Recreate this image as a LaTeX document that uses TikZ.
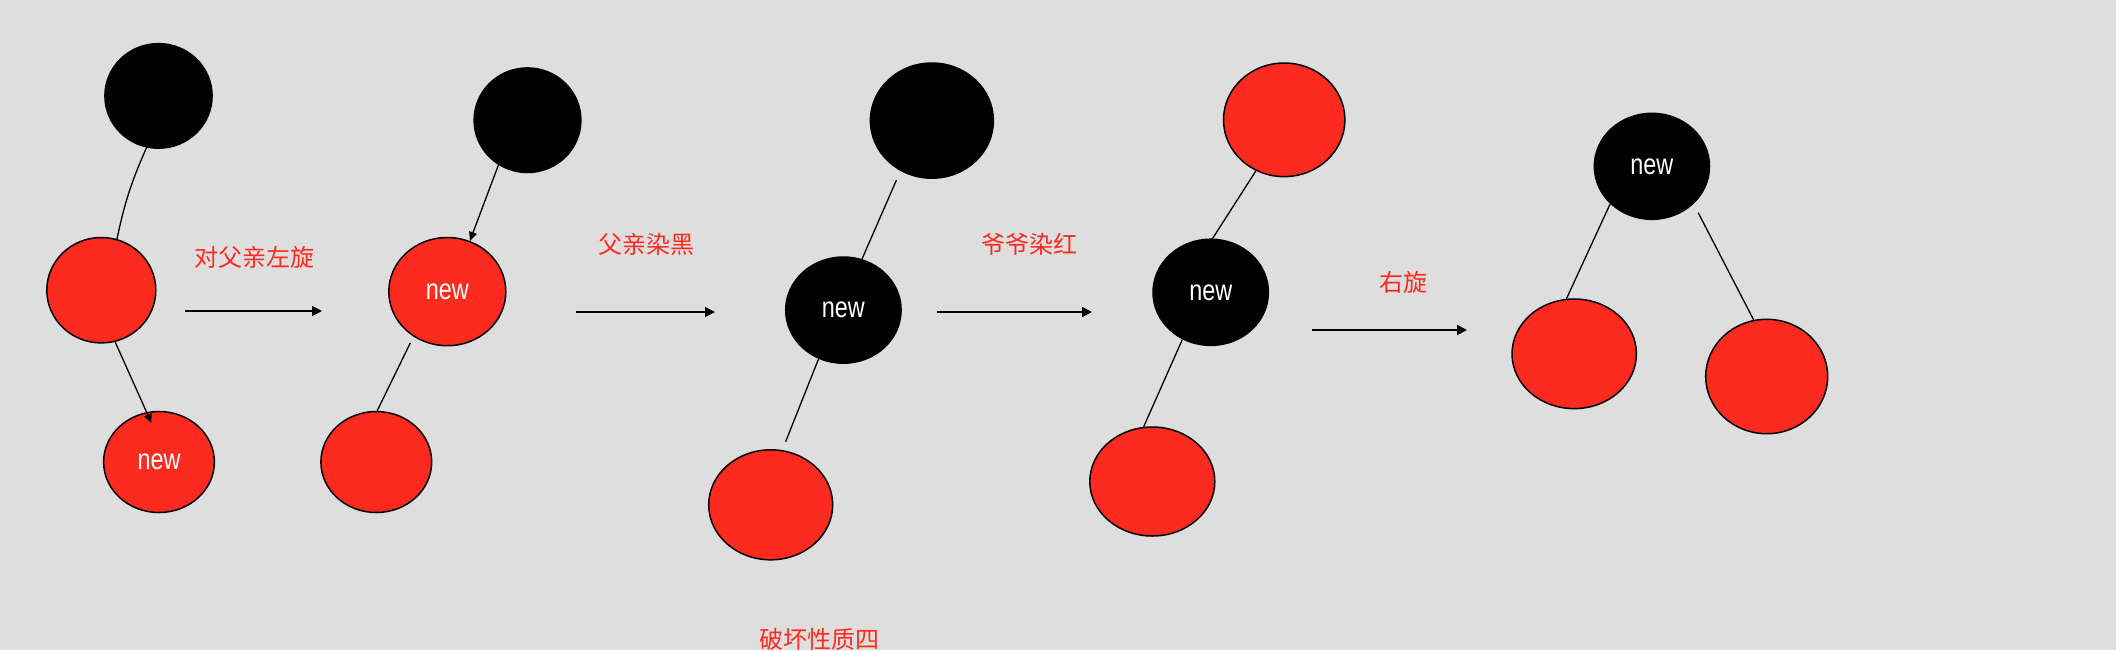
\documentclass[tikz,border=0pt]{standalone}
\usepackage{fontspec}
\setsansfont{Liberation Sans}
\newfontfamily\cjk{Noto Sans CJK SC}
\usepackage{tikz}
\usetikzlibrary{arrows.meta,shapes.geometric}
\definecolor{rbred}{RGB}{252,42,31}
\definecolor{bggray}{RGB}{222,222,222}
\newcommand{\newtag}{\scalebox{0.9}[1.12]{new}}

\begin{document}
\begin{tikzpicture}[x=0.5pt, y=-0.5pt,
  rbnode/.style={ellipse, draw=black, line width=0.75pt, inner sep=0pt, text=white, font=\sffamily\fontsize{13}{15}\selectfont},
  edge/.style={line width=0.65pt},
  tip/.style={-{Triangle[length=4.5pt,width=4pt]}},
  movearrow/.style={line width=0.9pt, -{Triangle[length=5pt,width=5pt]}},
  caption/.style={text=rbred, font=\cjk\fontsize{12}{14}\selectfont}]
\path[fill=bggray, use as bounding box] (0,0) rectangle (2116,650);
\foreach \nm/\x/\y/\w/\h/\c/\txt in {gp1/158.5/95.9/53.6/52.3/black/{}, pa1/101.3/290.2/54.5/52.7/rbred/{}, nw1/159/462/55.4/50.5/rbred/\newtag,
                                     gp2/527.5/120.2/53.4/52.3/black/{}, nw2/447.3/291.6/58.5/54.1/rbred/\newtag, pa2/376.3/462/55.4/50.5/rbred/{},
                                     gp3/931.9/120.6/61.5/57.6/black/{}, nw3/843.4/310.1/57.7/53.1/black/\newtag, pa3/770.7/504.8/62/55/rbred/{},
                                     gp4/1284.2/119.8/60.7/56.8/rbred/{}, nw4/1210.7/292.3/57.7/53.1/black/\newtag, pa4/1152.3/481.5/62.5/54.5/rbred/{},
                                     nw5/1651.9/166.3/57.6/53/black/\newtag, pa5/1574.2/353.8/62.2/54.8/rbred/{}, gp5/1766.7/376.5/61/57.2/rbred/{}}{
  \node[rbnode, fill=\c, minimum width=\w pt, minimum height=\h pt] (\nm) at (\x,\y) {\txt};
}
\draw[edge] (gp1.257) to[bend right=6] (pa1.73);
\draw[edge, tip, shorten >=-6pt] (pa1.285) -- (nw1.104);
\draw[edge, tip] (gp2.237) -- (nw2.66);
\draw[edge, shorten <=3.5pt] (nw2.233) -- (pa2.89);
\draw[edge, shorten <=5pt] (gp3.238) -- (nw3.70);
\draw[edge, shorten >=4.5pt] (nw3.243) -- (pa3.78);
\draw[edge] (gp4.241) -- (nw4.88);
\draw[edge] (nw4.239) -- (pa4.99);
\draw[edge] (nw5.222) -- (pa5.98);
\draw[edge, shorten <=5pt] (nw5.318) -- (gp5.103);
\foreach \i/\xa/\xb/\y in {1/185/322/311, 2/576/715/312, 3/937/1092/312, 4/1312/1467/330}{
  \coordinate (s\i) at (\xa,\y);
  \coordinate (e\i) at (\xb,\y);
  \draw[movearrow] (s\i) -- (e\i);
}
\foreach \nm/\x/\y/\txt in {lbl1/254.5/257/对父亲左旋, lbl2/646.3/244.7/父亲染黑, lbl3/1029/244.6/爷爷染红,
                            lbl4/1403/282.8/右旋, lbl5/819/639/破坏性质四}{
  \node[caption] (\nm) at (\x,\y) {\txt};
}
\end{tikzpicture}
\end{document}
